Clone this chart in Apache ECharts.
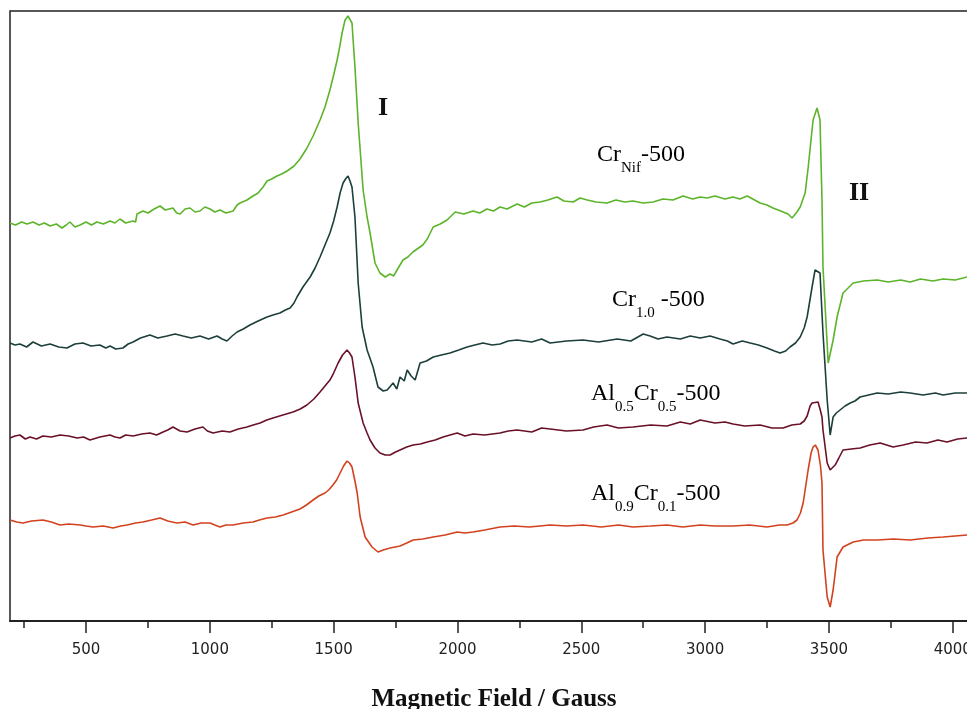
<!DOCTYPE html>
<html>
<head>
<meta charset="utf-8">
<script src="https://cdn.jsdelivr.net/npm/echarts@6/dist/echarts.min.js"></script>
<style>
  html, body { margin: 0; padding: 0; background: #fff; }
  #chart { width: 967px; height: 709px; }
</style>
</head>
<body>
<div id="chart"></div>
<script>
// field in Gauss, intensity in arbitrary units (each trace has its own offset)
var fieldNif = [193, 215, 240, 262, 286, 310, 332, 355, 380, 403, 420, 435, 455, 476, 500, 522, 544, 570, 597, 617,
  637, 660, 690, 700, 706, 730, 750, 775, 799, 820, 851, 866, 880, 900, 920, 940, 960, 980, 1001, 1020,
  1041, 1065, 1094, 1110, 1122, 1150, 1174, 1195, 1215, 1231, 1250, 1271, 1290, 1312, 1340, 1364, 1390, 1417, 1445, 1465,
  1485, 1500, 1514, 1525, 1534, 1546, 1558, 1566, 1574, 1586, 1599, 1619, 1635, 1647, 1667, 1687, 1708, 1728, 1742, 1756,
  1780, 1800, 1820, 1837, 1860, 1878, 1902, 1930, 1958, 1991, 2025, 2063, 2090, 2119, 2145, 2172, 2200, 2241, 2270, 2300,
  2334, 2365, 2402, 2430, 2467, 2495, 2524, 2560, 2604, 2640, 2675, 2709, 2750, 2790, 2830, 2870, 2911, 2950, 2980, 3008,
  3040, 3080, 3113, 3140, 3170, 3200, 3222, 3250, 3274, 3295, 3315, 3335, 3351, 3368, 3384, 3404, 3416, 3436, 3452, 3464,
  3472, 3476, 3497, 3505, 3517, 3533, 3557, 3598, 3640, 3695, 3740, 3790, 3828, 3870, 3920, 3961, 4010, 4058];
var intNif = [398, 396, 399, 397, 399, 396, 398, 395, 397, 393, 396, 399, 394, 396, 399, 396, 399, 397, 400, 398,
  402, 398, 400, 399, 407, 410, 408, 412, 415, 411, 413, 408, 407, 412, 413, 409, 410, 414, 412, 409,
  411, 408, 410, 416, 418, 421, 425, 428, 434, 440, 442, 445, 447, 450, 455, 462, 472, 485, 501, 514,
  531, 546, 561, 575, 588, 601, 605, 603, 598, 554, 498, 431, 404, 388, 358, 348, 344, 347, 345, 351,
  361, 364, 369, 372, 376, 382, 394, 397, 401, 409, 407, 410, 408, 412, 410, 414, 412, 417, 414, 418,
  419, 421, 424, 420, 419, 423, 421, 419, 418, 421, 419, 420, 418, 419, 422, 421, 425, 422, 424, 423,
  425, 422, 424, 422, 425, 421, 418, 416, 413, 411, 409, 407, 403, 408, 414, 428, 453, 501, 513, 501,
  421, 354, 258, 256, 281, 304, 328, 338, 340, 341, 339, 341, 339, 342, 340, 342, 341, 344];

var fieldCr10 = [193, 213, 233, 260, 286, 320, 355, 390, 423, 455, 488, 520, 556, 580, 597, 620, 649, 670, 690, 720,
  758, 790, 827, 860, 892, 925, 960, 995, 1029, 1050, 1069, 1090, 1110, 1135, 1162, 1195, 1231, 1255, 1283, 1305,
  1324, 1340, 1352, 1376, 1405, 1425, 1445, 1465, 1485, 1500, 1514, 1526, 1538, 1548, 1558, 1566, 1574, 1586, 1599, 1615,
  1635, 1659, 1679, 1700, 1716, 1740, 1755, 1768, 1785, 1797, 1813, 1829, 1849, 1875, 1902, 1935, 1970, 2005, 2039, 2070,
  2103, 2140, 2172, 2205, 2241, 2300, 2340, 2374, 2440, 2507, 2570, 2645, 2700, 2750, 2778, 2810, 2846, 2900, 2940, 2980,
  3020, 3060, 3090, 3113, 3150, 3182, 3215, 3250, 3280, 3303, 3325, 3343, 3365, 3384, 3400, 3412, 3432, 3444, 3452, 3464,
  3476, 3493, 3505, 3517, 3530, 3545, 3565, 3586, 3605, 3626, 3660, 3695, 3740, 3790, 3828, 3880, 3930, 3961, 4010, 4058];
var intCr10 = [278, 276, 277, 274, 279, 275, 277, 274, 273, 277, 278, 275, 276, 273, 275, 272, 273, 277, 279, 283,
  286, 283, 285, 287, 285, 283, 285, 282, 285, 282, 280, 285, 289, 292, 296, 300, 304, 306, 308, 311,
  313, 318, 324, 334, 344, 353, 364, 376, 388, 400, 414, 428, 438, 442, 445, 440, 434, 404, 338, 294,
  271, 254, 234, 230, 231, 238, 232, 244, 240, 251, 245, 241, 258, 260, 264, 266, 268, 271, 274, 276,
  278, 276, 277, 280, 281, 279, 282, 278, 280, 281, 279, 282, 280, 287, 285, 282, 284, 282, 285, 283,
  285, 282, 280, 277, 280, 278, 276, 273, 270, 268, 270, 274, 278, 284, 293, 304, 334, 351, 353, 348,
  288, 221, 186, 204, 208, 211, 215, 218, 220, 224, 226, 228, 227, 229, 228, 226, 228, 226, 228, 228];

var fieldAl05 = [193, 213, 233, 255, 274, 300, 326, 360, 395, 430, 464, 490, 516, 556, 597, 617, 637, 660, 690, 725,
  758, 785, 811, 830, 851, 880, 908, 940, 972, 990, 1013, 1050, 1081, 1115, 1150, 1175, 1203, 1230, 1255, 1295,
  1336, 1365, 1392, 1420, 1445, 1465, 1485, 1500, 1518, 1536, 1554, 1564, 1574, 1586, 1599, 1619, 1635, 1647, 1667, 1687,
  1708, 1728, 1750, 1768, 1795, 1821, 1850, 1878, 1910, 1942, 1970, 1999, 2030, 2063, 2110, 2172, 2205, 2241, 2300, 2340,
  2374, 2440, 2507, 2550, 2604, 2650, 2709, 2780, 2846, 2900, 2940, 2980, 3040, 3080, 3113, 3160, 3222, 3270, 3315, 3350,
  3384, 3400, 3412, 3424, 3432, 3456, 3464, 3472, 3476, 3493, 3505, 3525, 3540, 3557, 3590, 3626, 3665, 3707, 3759, 3800,
  3850, 3896, 3940, 3977, 4020, 4058];
var intAl05 = [183, 185, 186, 182, 184, 182, 185, 184, 186, 185, 183, 184, 181, 184, 186, 184, 183, 186, 185, 187,
  188, 186, 189, 191, 194, 190, 189, 192, 194, 190, 188, 190, 189, 192, 194, 196, 198, 201, 203, 206,
  209, 212, 216, 222, 229, 235, 241, 248, 258, 266, 271, 268, 264, 244, 218, 198, 188, 181, 173, 168,
  166, 166, 169, 171, 174, 176, 177, 179, 181, 184, 186, 188, 185, 187, 186, 188, 190, 191, 189, 193,
  192, 190, 191, 194, 196, 193, 194, 196, 195, 199, 197, 201, 198, 199, 197, 195, 196, 193, 193, 196,
  197, 200, 205, 215, 218, 219, 212, 204, 191, 158, 151, 156, 163, 171, 172, 173, 176, 178, 174, 176,
  179, 178, 181, 179, 182, 183];

var fieldAl09 = [193, 220, 246, 280, 326, 360, 395, 430, 476, 500, 528, 570, 609, 640, 666, 700, 730, 765, 799, 830,
  867, 900, 932, 965, 1001, 1020, 1041, 1065, 1094, 1135, 1174, 1200, 1231, 1265, 1296, 1330, 1364, 1390, 1417, 1440,
  1465, 1480, 1497, 1512, 1526, 1540, 1554, 1564, 1574, 1586, 1595, 1607, 1627, 1655, 1679, 1700, 1728, 1768, 1795, 1821,
  1860, 1902, 1950, 1999, 2030, 2063, 2110, 2172, 2230, 2290, 2374, 2440, 2507, 2580, 2650, 2709, 2780, 2846, 2910, 2980,
  3040, 3113, 3180, 3250, 3300, 3331, 3355, 3371, 3385, 3396, 3416, 3428, 3436, 3445, 3456, 3466, 3472, 3476, 3493, 3505,
  3517, 3533, 3557, 3598, 3640, 3695, 3760, 3828, 3900, 3961, 4010, 4058];
var intAl09 = [101, 99, 98, 100, 101, 99, 96, 97, 96, 95, 94, 95, 93, 95, 96, 98, 99, 101, 103, 100,
  98, 99, 96, 98, 98, 96, 94, 96, 96, 98, 99, 101, 103, 104, 106, 109, 112, 116, 121, 125,
  128, 131, 136, 141, 148, 155, 160, 158, 154, 140, 128, 104, 84, 74, 69, 71, 73, 75, 78, 81,
  82, 84, 86, 89, 88, 89, 91, 94, 95, 94, 96, 95, 96, 94, 96, 94, 95, 96, 94, 96,
  95, 95, 96, 94, 96, 96, 98, 101, 108, 118, 151, 168, 174, 176, 171, 155, 138, 71, 24, 14,
  31, 64, 74, 79, 81, 81, 82, 81, 83, 84, 85, 86];

var majorTicks = [500, 1000, 1500, 2000, 2500, 3000, 3500, 4000];
var minorTicks = [250, 750, 1250, 1750, 2250, 2750, 3250, 3750];

function pairs(xs, ys) {
  return xs.map(function (x, i) { return [x, ys[i]]; });
}

var chart = echarts.init(document.getElementById('chart'), null, { renderer: 'canvas' });

var serif = '"Liberation Serif", "DejaVu Serif", serif';
function labelText(parts) {
  // parts like [['m', 'Cr'], ['s', 'Nif'], ['m', '-500']]
  return parts.map(function (p) { return '{' + p[0] + '|' + p[1] + '}'; }).join('');
}
var labelRich = {
  m: { fontFamily: serif, fontSize: 24, color: '#222', lineHeight: 33, verticalAlign: 'top' },
  s: { fontFamily: serif, fontSize: 15, color: '#222', lineHeight: 33, verticalAlign: 'bottom' }
};

var option = {
  animation: false,
  backgroundColor: '#fff',
  grid: {
    left: 10, right: -11, top: 11, bottom: 88,
    outerBoundsMode: 'none',
    containLabel: false,
    show: true, borderColor: '#222', borderWidth: 1.5
  },
  xAxis: [
    {
      type: 'value', min: 193, max: 4102,
      name: 'Magnetic Field / Gauss',
      nameLocation: 'middle', nameGap: 66,
      nameTextStyle: { fontFamily: serif, fontWeight: 'bold', fontSize: 25, color: '#111' },
      axisLine: { show: true, lineStyle: { color: '#222', width: 2 } },
      axisTick: { show: true, customValues: majorTicks, length: 12, lineStyle: { color: '#222', width: 1.5 } },
      axisLabel: {
        show: true, customValues: majorTicks, margin: 22,
        fontFamily: '"DejaVu Sans", sans-serif', fontSize: 15, color: '#222',
        formatter: function (v) { return String(v); }
      },
      splitLine: { show: false }
    },
    {
      type: 'value', min: 193, max: 4102, position: 'bottom',
      axisLine: { show: false },
      axisTick: { show: true, customValues: minorTicks, length: 7, lineStyle: { color: '#222', width: 1.5 } },
      axisLabel: { show: false },
      splitLine: { show: false }
    }
  ],
  yAxis: {
    type: 'value', min: 0, max: 610, show: false
  },
  series: [
    { name: 'CrNif-500', type: 'line', data: pairs(fieldNif, intNif), color: '#5cb42a' },
    { name: 'Cr1.0-500', type: 'line', data: pairs(fieldCr10, intCr10), color: '#1c3f3b' },
    { name: 'Al0.5Cr0.5-500', type: 'line', data: pairs(fieldAl05, intAl05), color: '#6a1027' },
    { name: 'Al0.9Cr0.1-500', type: 'line', data: pairs(fieldAl09, intAl09), color: '#d2421e' }
  ].map(function (s) {
    s.showSymbol = false;
    s.symbol = 'none';
    s.lineStyle = { width: 1.6, color: s.color };
    s.xAxisIndex = 0;
    return s;
  }),
  graphic: [
    { type: 'text', left: 378, top: 95, style: { text: 'I', font: 'bold 26px ' + serif, fill: '#111' } },
    { type: 'text', left: 849, top: 180, style: { text: 'II', font: 'bold 26px ' + serif, fill: '#111' } },
    { type: 'text', left: 597, top: 143, style: { text: labelText([['m', 'Cr'], ['s', 'Nif'], ['m', '-500']]), rich: labelRich } },
    { type: 'text', left: 612, top: 288, style: { text: labelText([['m', 'Cr'], ['s', '1.0'], ['m', ' -500']]), rich: labelRich } },
    { type: 'text', left: 591, top: 382, style: { text: labelText([['m', 'Al'], ['s', '0.5'], ['m', 'Cr'], ['s', '0.5'], ['m', '-500']]), rich: labelRich } },
    { type: 'text', left: 591, top: 482, style: { text: labelText([['m', 'Al'], ['s', '0.9'], ['m', 'Cr'], ['s', '0.1'], ['m', '-500']]), rich: labelRich } }
  ]
};

chart.setOption(option);
</script>
</body>
</html>
